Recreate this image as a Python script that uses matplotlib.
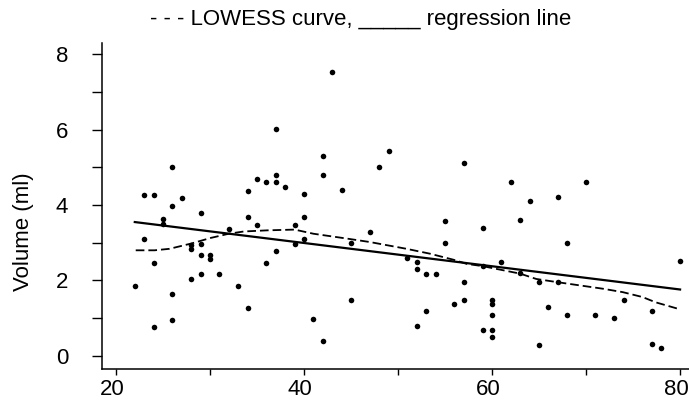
import numpy as np
import matplotlib
matplotlib.use("Agg")
import matplotlib.pyplot as plt
from matplotlib.ticker import MultipleLocator
from matplotlib.transforms import ScaledTranslation

plt.rcParams['font.family'] = ['Liberation Sans', 'DejaVu Sans']

# age (years) and volume (ml) for each subject
age = [22, 23, 23, 24, 24, 24, 25, 25, 26, 26, 26, 26, 27, 28, 28, 28,
       29, 29, 29, 29, 30, 30, 31, 32, 33, 34, 34, 34, 35, 35, 36, 36,
       37, 37, 37, 37, 38, 39, 39, 40, 40, 40, 41, 42, 42, 42, 43, 44,
       45, 45, 47, 48, 49, 51, 52, 52, 52, 53, 53, 54, 55, 55, 56, 57,
       57, 57, 59, 59, 59, 60, 60, 60, 60, 60, 61, 62, 63, 63, 64, 65,
       65, 66, 67, 67, 68, 68, 70, 71, 73, 74, 77, 77, 78, 80]
volume = [1.85, 4.28, 3.09, 4.28, 2.47, 0.77, 3.51, 3.64, 5.00, 3.98, 1.65, 0.96, 4.20, 2.95, 2.83, 2.04,
          3.78, 2.98, 2.68, 2.16, 2.67, 2.56, 2.16, 3.36, 1.85, 4.38, 3.69, 1.28, 4.70, 3.48, 4.60, 2.47,
          4.60, 4.80, 6.02, 2.77, 4.49, 3.48, 2.98, 4.30, 3.68, 3.10, 0.97, 5.29, 4.79, 0.38, 7.54, 4.39,
          3.00, 1.47, 3.28, 5.01, 5.43, 2.60, 2.50, 2.30, 0.79, 2.18, 1.18, 2.18, 3.58, 3.00, 1.38, 5.13,
          1.97, 1.48, 3.40, 2.38, 0.69, 1.47, 1.38, 1.07, 0.69, 0.49, 2.49, 4.62, 3.60, 2.20, 4.12, 1.97,
          0.30, 1.29, 4.21, 1.97, 3.00, 1.08, 4.62, 1.08, 1.00, 1.48, 1.20, 0.31, 0.20, 2.51]

# smoothed LOWESS curve
lowess_x = [22.1, 24.1, 25.7, 28.0, 30.1, 32.0, 33.6, 36.1, 39.0, 41.0, 44.6, 47.0, 50.9, 53.4,
            55.9, 57.3, 59.0, 61.2, 63.0, 64.7, 66.8, 69.3, 71.8, 73.9, 76.0, 77.4, 79.9]
lowess_y = [2.80, 2.80, 2.84, 2.98, 3.13, 3.24, 3.30, 3.33, 3.35, 3.24, 3.11, 3.02, 2.84, 2.71,
            2.55, 2.44, 2.38, 2.27, 2.18, 2.04, 1.96, 1.87, 1.78, 1.69, 1.56, 1.42, 1.24]

# least-squares regression line end points
reg_x = [22, 80]
reg_y = [3.55, 1.76]

fig = plt.figure(figsize=(6.89, 4.01), dpi=100)
ax = fig.add_axes([0.1476, 0.0798, 0.8524, 0.8137])

ax.scatter(age, volume, s=16, color='black', zorder=3, linewidths=0)
ax.plot(reg_x, reg_y, color='black', lw=1.6)
ax.plot(lowess_x, lowess_y, color='black', lw=1.3, dashes=(4.8, 2.2))

ax.set_xlim(18.48, 80.95)
ax.set_ylim(-0.35, 8.31)

ax.xaxis.set_major_locator(MultipleLocator(20))
ax.xaxis.set_minor_locator(MultipleLocator(10))
ax.yaxis.set_major_locator(MultipleLocator(2))
ax.yaxis.set_minor_locator(MultipleLocator(1))

ax.tick_params(axis='x', which='both', direction='out', length=4.5, width=1, pad=2.5, labelsize=16)
ax.tick_params(axis='y', which='both', direction='out', length=7, width=1, pad=17, labelsize=16)

for side in ['top', 'right']:
    ax.spines[side].set_visible(False)
for side in ['left', 'bottom']:
    ax.spines[side].set_linewidth(1.1)

# nudge x tick labels a little left; keep the last one inside the figure
fig.canvas.draw()
shift = ScaledTranslation(-4 / 100, 0, fig.dpi_scale_trans)
xlabels = ax.get_xticklabels()
for lab in xlabels:
    lab.set_transform(lab.get_transform() + shift)
xlabels[-1].set_horizontalalignment('right')

fig.text(23 / 689, 1 - 232 / 401, 'Volume (ml)', rotation=90, ha='center', va='center', fontsize=16)
fig.text(361 / 689, 1 - 19 / 401, '- - - LOWESS curve, _____ regression line',
         ha='center', va='center', fontsize=16)

fig.savefig('out.png', dpi=100)
